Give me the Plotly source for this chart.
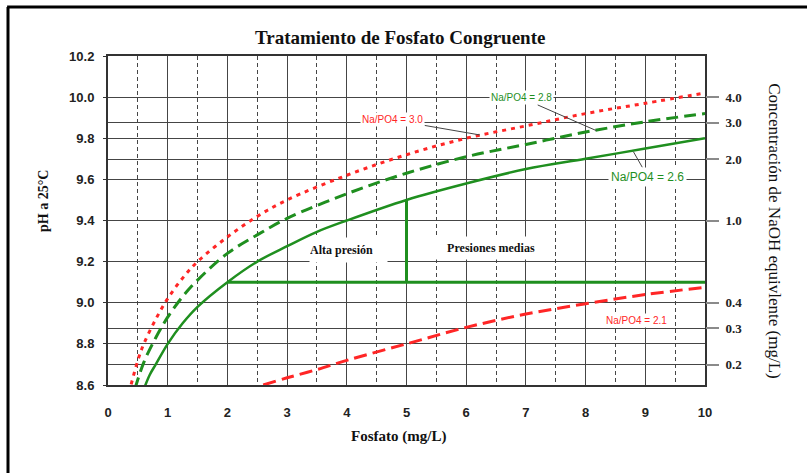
import math
import plotly.graph_objects as go

# Curves: phosphate (mg/L) vs pH at 25 °C for several Na/PO4 molar ratios
x_r30 = [0.35, 0.5, 0.6, 0.8, 1.0, 1.25, 1.5, 2.0, 2.5, 3.0, 4.0, 5.0, 6.0, 7.0, 8.0, 9.0, 10.0]
ph_r30 = [8.56, 8.72, 8.80, 8.92, 9.02, 9.12, 9.20, 9.32, 9.42, 9.50, 9.62, 9.72, 9.80, 9.86, 9.92, 9.97, 10.02]

x_r28 = [0.45, 0.6, 0.8, 1.0, 1.25, 1.5, 2.0, 2.5, 3.0, 4.0, 5.0, 6.0, 7.0, 8.0, 9.0, 10.0]
ph_r28 = [8.58, 8.71, 8.83, 8.93, 9.03, 9.11, 9.24, 9.33, 9.41, 9.53, 9.63, 9.71, 9.77, 9.83, 9.88, 9.92]

x_r26 = [0.6, 0.7, 0.8, 1.0, 1.25, 1.5, 2.0, 2.5, 3.0, 3.5, 4.0, 5.0, 6.0, 7.0, 8.0, 9.0, 10.0]
ph_r26 = [8.58, 8.65, 8.70, 8.80, 8.90, 8.98, 9.10, 9.20, 9.275, 9.345, 9.40, 9.50, 9.58, 9.65, 9.70, 9.75, 9.80]

x_r21 = [2.6, 3.0, 3.5, 4.0, 5.0, 6.0, 7.0, 8.0, 9.0, 10.0]
ph_r21 = [8.60, 8.635, 8.675, 8.72, 8.80, 8.88, 8.945, 8.995, 9.04, 9.075]

# Operating-zone boundaries
x_limit_h = [2.0, 10.0]
ph_limit_h = [9.1, 9.1]
x_limit_v = [5.0, 5.0]
ph_limit_v = [9.1, 9.5]

# Axis ticks
x_ticks = list(range(0, 11))
ph_ticks = [8.6, 8.8, 9.0, 9.2, 9.4, 9.6, 9.8, 10.0, 10.2]
naoh_ticks = [0.2, 0.3, 0.4, 1.0, 2.0, 3.0, 4.0]
naoh_labels = ["0.2", "0.3", "0.4", "1.0", "2.0", "3.0", "4.0"]


def naoh_to_ph(c_mg_l):
    # pH of a NaOH solution of c mg/L (M = 40 g/mol) at 25 °C
    return 14 + math.log10(c_mg_l / 40000.0)


RED = "#ff2626"
GREEN = "#1f8f1f"
GRID = "#454545"
SERIF = "Liberation Serif"
SANS = "Liberation Sans"

fig = go.Figure()

fig.add_trace(go.Scatter(x=x_r30, y=ph_r30, mode="lines", line_shape="spline",
                         line=dict(color=RED, width=3, dash="4px,5px")))
fig.add_trace(go.Scatter(x=x_r28, y=ph_r28, mode="lines", line_shape="spline",
                         line=dict(color=GREEN, width=3, dash="12px,6px")))
fig.add_trace(go.Scatter(x=x_r26, y=ph_r26, mode="lines", line_shape="spline",
                         line=dict(color=GREEN, width=2.5)))
fig.add_trace(go.Scatter(x=x_r21, y=ph_r21, mode="lines", line_shape="spline",
                         line=dict(color=RED, width=3, dash="13px,6px")))
fig.add_trace(go.Scatter(x=x_limit_h, y=ph_limit_h, mode="lines",
                         line=dict(color=GREEN, width=3)))
fig.add_trace(go.Scatter(x=x_limit_v, y=ph_limit_v, mode="lines",
                         line=dict(color=GREEN, width=3)))
# invisible trace to bind the secondary (NaOH) axis
fig.add_trace(go.Scatter(x=[0], y=[9.0], yaxis="y2", mode="markers",
                         marker=dict(opacity=0), hoverinfo="skip"))

fig.update_layout(
    width=807, height=473,
    margin=dict(l=108, r=102, t=56, b=88),
    paper_bgcolor="white", plot_bgcolor="white",
    showlegend=False,
    xaxis=dict(
        range=[0, 10], tickvals=x_ticks, ticktext=[str(v) for v in x_ticks],
        showgrid=True, gridcolor=GRID, gridwidth=1,
        minor=dict(dtick=0.5, tick0=0, showgrid=True, gridcolor=GRID, griddash="4px,3px", gridwidth=1),
        showline=True, linecolor="#333333", linewidth=2, mirror=True,
        ticks="", ticklabelstandoff=14,
        tickfont=dict(family=SANS, size=13, color="#222222", weight="bold"),
        zeroline=False,
    ),
    yaxis=dict(
        range=[8.6, 10.2], tickvals=ph_ticks, ticktext=[f"{v:.1f}" for v in ph_ticks],
        showgrid=True, gridcolor=GRID, gridwidth=1,
        showline=True, linecolor="#333333", linewidth=2, mirror=True,
        ticks="outside", ticklen=3, tickcolor="#333333", ticklabelstandoff=6,
        tickfont=dict(family=SANS, size=13, color="#222222", weight="bold"),
        zeroline=False,
    ),
    yaxis2=dict(
        range=[8.6, 10.2], overlaying="y", side="right",
        tickvals=[naoh_to_ph(c) for c in naoh_ticks], ticktext=naoh_labels,
        showgrid=True, gridcolor=GRID, gridwidth=1,
        ticks="outside", ticklen=13, tickwidth=2, tickcolor="#8a8a8a",
        ticklabelstandoff=4,
        tickfont=dict(family=SERIF, size=13, color="#222222", weight="bold"),
        zeroline=False, showline=False,
    ),
)

# Title and axis titles
fig.add_annotation(text="Tratamiento de Fosfato Congruente", xref="paper", yref="paper",
                   x=0.489, y=1.055, xanchor="center", yanchor="middle", showarrow=False,
                   font=dict(family=SERIF, size=19, color="#111111", weight="bold"))
fig.add_annotation(text="Fosfato (mg/L)", xref="paper", yref="paper",
                   x=0.486, y=-0.158, xanchor="center", yanchor="middle", showarrow=False,
                   font=dict(family=SERIF, size=15, color="#111111", weight="bold"))
fig.add_annotation(text="pH a 25°C", xref="paper", yref="paper", textangle=-90,
                   x=-0.109, y=0.559, xanchor="center", yanchor="middle", showarrow=False,
                   font=dict(family=SERIF, size=14, color="#111111", weight="bold"))
fig.add_annotation(text="Concentración de NaOH equivlente (mg/L)", xref="paper", yref="paper",
                   textangle=90, x=1.117, y=0.468, xanchor="center", yanchor="middle",
                   showarrow=False, font=dict(family=SERIF, size=17, color="#111111"))

# Zone labels
fig.add_annotation(text="Alta presión", x=4.03, y=9.255, showarrow=False,
                   width=77, height=24, align="left", bgcolor="white", borderpad=0,
                   font=dict(family=SERIF, size=12, color="#111111", weight="bold"))
fig.add_annotation(text="Presiones medias", x=6.42, y=9.265, showarrow=False,
                   width=116, height=22, align="center", bgcolor="white", borderpad=0,
                   font=dict(family=SERIF, size=12, color="#111111", weight="bold"))

# Curve labels with leader lines
fig.add_annotation(text="Na/PO4 = 3.0", x=6.23, y=9.816, ax=4.77, ay=9.889,
                   axref="x", ayref="y", showarrow=True, arrowhead=0, arrowwidth=1,
                   arrowcolor="#444444", bgcolor="white", borderpad=1,
                   font=dict(family=SANS, size=10, color=RED))
fig.add_annotation(text="Na/PO4 = 2.8", x=8.18, y=9.837, ax=6.93, ay=9.996,
                   axref="x", ayref="y", showarrow=True, arrowhead=0, arrowwidth=1,
                   arrowcolor="#444444", bgcolor="white", borderpad=1,
                   font=dict(family=SANS, size=10, color=GREEN))
fig.add_annotation(text="Na/PO4 = 2.6", x=8.80, y=9.735, ax=9.04, ay=9.613,
                   axref="x", ayref="y", showarrow=True, arrowhead=0, arrowwidth=1,
                   arrowcolor="#444444", bgcolor="white", borderpad=2,
                   font=dict(family=SANS, size=12, color=GREEN))
fig.add_annotation(text="Na/PO4 = 2.1", x=8.86, y=8.916, showarrow=False,
                   bgcolor="white", borderpad=1,
                   font=dict(family=SANS, size=10, color=RED))

# Outer frame (top and left edges)
fig.add_shape(type="line", xref="paper", yref="paper", x0=-0.169, x1=1.2, y0=1.149, y1=1.149,
              line=dict(color="black", width=3), layer="above")
fig.add_shape(type="line", xref="paper", yref="paper", x0=-0.1675, x1=-0.1675, y0=1.149, y1=-0.3,
              line=dict(color="black", width=3), layer="above")

fig.write_html("out.html")
